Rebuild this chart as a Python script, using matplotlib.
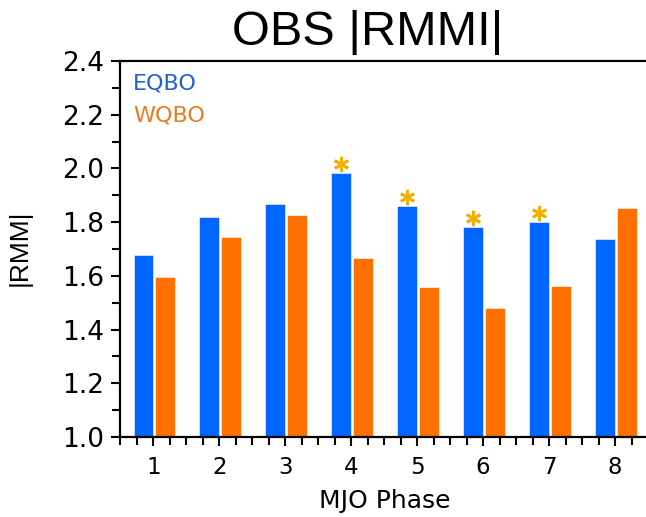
import matplotlib
matplotlib.use("Agg")
import matplotlib.pyplot as plt
from matplotlib.ticker import MultipleLocator, FormatStrFormatter

# MJO phases and mean |RMM| amplitude for each QBO phase
phases = [1, 2, 3, 4, 5, 6, 7, 8]
eqbo = [1.678, 1.819, 1.866, 1.982, 1.860, 1.783, 1.800, 1.736]
wqbo = [1.596, 1.745, 1.825, 1.666, 1.560, 1.480, 1.563, 1.851]
# phases where the EQBO/WQBO difference is significant
significant = [4, 5, 6, 7]

blue = "#0066FF"
orange = "#FF7000"
star_color = "#F2B000"

fig = plt.figure(figsize=(6.46, 5.17), dpi=100)
ax = fig.add_axes([120.5 / 646, 1 - 437 / 517, (648 - 120.5) / 646, (437 - 61) / 517])

ax.bar([p - 0.152 for p in phases], [v - 1.0 for v in eqbo], bottom=1.0,
       width=0.3, color=blue, edgecolor="white", linewidth=0.4, zorder=2)
ax.bar([p + 0.177 for p in phases], [v - 1.0 for v in wqbo], bottom=1.0,
       width=0.3, color=orange, edgecolor="white", linewidth=0.4, zorder=2)

# significance markers above the EQBO bars
sx = [p - 0.152 for p in significant]
sy = [eqbo[phases.index(p)] + 0.034 for p in significant]
ax.plot(sx, sy, linestyle="none", marker=(6, 2, 0), markersize=11,
        markeredgewidth=2.0, color=star_color, zorder=3)

ax.set_xlim(0.5, 8.5)
ax.set_ylim(1.0, 2.4)
ax.set_xticks(phases)
ax.xaxis.set_minor_locator(MultipleLocator(0.25))
ax.yaxis.set_major_locator(MultipleLocator(0.2))
ax.yaxis.set_minor_locator(MultipleLocator(0.1))
ax.yaxis.set_major_formatter(FormatStrFormatter("%.1f"))

for s in ("left", "bottom", "top"):
    ax.spines[s].set_linewidth(1.6)
ax.spines["right"].set_visible(False)

ax.tick_params(axis="both", which="both", direction="out", width=1.5, color="black")
ax.tick_params(axis="both", which="major", length=6.5)
ax.tick_params(axis="both", which="minor", length=5.5)
ax.tick_params(axis="y", which="major", labelsize=19, pad=5)
ax.tick_params(axis="x", which="major", labelsize=16.5, pad=7)
ax.tick_params(top=False, right=False, which="both")
for lab in ax.get_xticklabels() + ax.get_yticklabels():
    lab.set_fontfamily("DejaVu Sans")

fig.text(368 / 646, 1 - 45 / 517, "OBS |RMMI|", fontsize=35,
         family="Liberation Sans", ha="center", va="baseline")
fig.text(20 / 646, 1 - 248 / 517, "|RMM|", fontsize=19, rotation=90,
         family="Liberation Sans", ha="center", va="center")
fig.text(385 / 646, 1 - 508 / 517, "MJO Phase", fontsize=18,
         family="DejaVu Sans", ha="center", va="baseline")

fig.text(133 / 646, 1 - 89 / 517, "EQBO", fontsize=16, color="#1F62D8",
         family="DejaVu Sans", ha="left", va="baseline")
fig.text(133 / 646, 1 - 121 / 517, "WQBO", fontsize=16, color="#EC7A22",
         family="DejaVu Sans", ha="left", va="baseline")

fig.savefig("out.png", dpi=100)
